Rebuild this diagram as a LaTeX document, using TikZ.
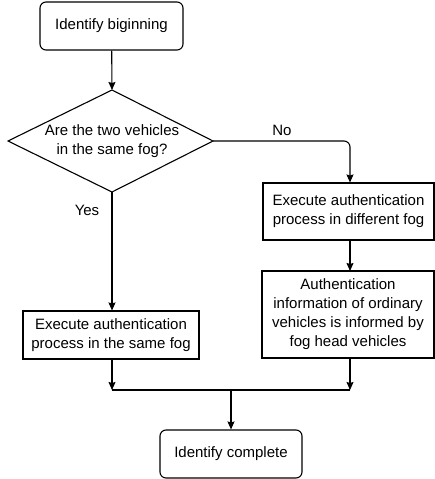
\documentclass[tikz,border=0pt]{standalone}
\usepackage{fontspec}
\setmainfont{Liberation Sans}
\usetikzlibrary{arrows.meta}
\begin{document}
\begin{tikzpicture}[x=1pt,y=-1pt,
  every node/.style={font=\fontsize{15}{19}\selectfont},
  box/.style={draw,line width=1.1pt,inner sep=0pt,align=center},
  rbox/.style={box,rounded corners=6pt},
  arr/.style={line width=1.1pt,-{Stealth[length=8pt,width=7pt,inset=1pt]}},
  ln/.style={line width=1.1pt}]
\useasboundingbox (0,0) rectangle (434,479);
\node[rbox,minimum width=143pt,minimum height=48pt] (start) at (111.5,26) {Identify biginning};
\coordinate (dL) at (8,141); \coordinate (dR) at (213,141); \coordinate (dT) at (112,90); \coordinate (dB) at (112,192);
\draw[line width=1.1pt] (dL) -- (dT) -- (dR) -- (dB) -- cycle;
\node[align=center] (dec) at (112,141) {Are the two vehicles\\in the same fog?};
\node[box,minimum width=171pt,minimum height=57pt] (diff) at (348.5,211.5) {Execute authentication\\process in different fog};
\node[box,minimum width=172pt,minimum height=87pt] (info) at (348,314.5) {Authentication\\information of ordinary\\vehicles is informed by\\fog head vehicles};
\node[box,minimum width=176pt,minimum height=48pt] (same) at (111,335) {Execute authentication\\process in the same fog};
\node[rbox,minimum width=142pt,minimum height=48pt] (end) at (231,454) {Identify complete};
\coordinate (j) at (231,390);
\coordinate (jl) at (112,390);
\coordinate (jr) at (350,390);
\coordinate (nr) at (350,141);
\draw[arr] (start) -- (dT);
\draw[arr,rounded corners=6pt] (dR) -- (nr) -- (nr |- diff.north);
\node at (282,130) {No};
\node at (87,210) {Yes};
\draw[arr] (dB) -- (dB |- same.north);
\draw[arr] (350,240) -- (350,271);
\draw[ln] (jl) -- (jr);
\draw[arr] (same.south -| jl) -- (jl);
\draw[arr] (info.south -| jr) -- (jr);
\draw[arr] (j) -- (end);
\end{tikzpicture}
\end{document}
